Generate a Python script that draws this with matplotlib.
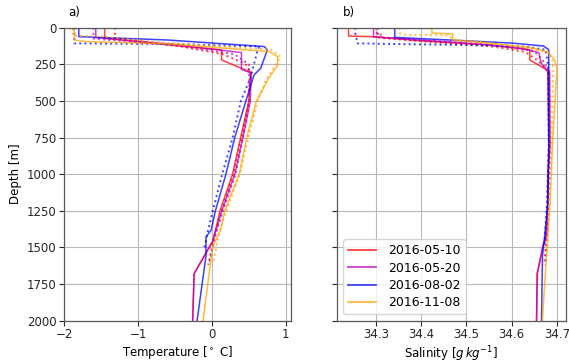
import matplotlib
matplotlib.use("Agg")
import matplotlib.pyplot as plt

dates = ["2016-05-10", "2016-05-20", "2016-08-02", "2016-11-08"]
colors = ["red", "m", "b", "orange"]

# Temperature profiles: (depth, T) solid and dotted per date
t_red_solid_z = [0, 71, 122, 152, 220, 305, 500, 750, 1000, 1250, 1380, 1460, 1680, 2000]
t_red_solid_v = [-1.45, -1.45, -0.5, 0.13, 0.13, 0.53, 0.50, 0.39, 0.28, 0.11, 0.05, 0.01, -0.24, -0.26]
t_red_dot_z = [0, 72, 125, 180, 245, 300, 500, 750, 1000, 1250, 1450, 1620]
t_red_dot_v = [-1.31, -1.31, -0.45, 0.14, 0.45, 0.52, 0.50, 0.40, 0.29, 0.13, 0.02, -0.05]

t_mag_solid_z = [0, 68, 115, 170, 285, 310, 500, 750, 1000, 1250, 1460, 1680, 2000]
t_mag_solid_v = [-1.57, -1.57, -0.5, 0.40, 0.40, 0.53, 0.52, 0.42, 0.31, 0.135, 0.01, -0.24, -0.26]
t_mag_dot_z = [0, 75, 120, 180, 250, 500, 750, 1000, 1250, 1450, 1600]
t_mag_dot_v = [-1.60, -1.60, -0.5, 0.30, 0.50, 0.51, 0.42, 0.32, 0.15, 0.03, -0.03]

t_blue_solid_z = [0, 61, 84, 129, 152, 277, 323, 500, 750, 1000, 1256, 1382, 1430, 1560, 2000]
t_blue_solid_v = [-1.80, -1.80, -0.6, 0.71, 0.75, 0.66, 0.57, 0.46, 0.31, 0.19, 0.045, -0.01, -0.08, -0.08, -0.20]
t_blue_dot_z = [0, 107, 112, 128, 150, 345, 503, 753, 1000, 1256, 1382, 1500]
t_blue_dot_v = [-1.86, -1.86, -0.5, 0.64, 0.62, 0.52, 0.39, 0.28, 0.14, 0.01, -0.05, -0.10]

t_orange_solid_z = [0, 25, 84, 95, 110, 164, 198, 255, 345, 503, 753, 1000, 1256, 1382, 1495, 2000]
t_orange_solid_v = [-1.90, -1.86, -1.86, -1.7, -0.6, 0.78, 0.89, 0.89, 0.77, 0.60, 0.47, 0.37, 0.17, 0.12, 0.01, -0.12]
t_orange_dot_z = [0, 55, 60, 100, 150, 198, 255, 357, 503, 753, 1000, 1256, 1400, 1600]
t_orange_dot_v = [-1.88, -1.88, -1.5, -0.7, 0.80, 0.93, 0.86, 0.73, 0.62, 0.49, 0.38, 0.19, 0.10, 0.02]

# Salinity profiles
s_red_solid_z = [0, 57, 62, 90, 118, 150, 220, 300, 800, 1000, 1400, 1480, 1680, 2000]
s_red_solid_v = [34.24, 34.24, 34.30, 34.40, 34.55, 34.64, 34.64, 34.684, 34.685, 34.68, 34.678, 34.670, 34.656, 34.655]
s_red_dot_z = [0, 68, 92, 125, 165, 230, 300, 900, 1400, 1620]
s_red_dot_v = [34.305, 34.305, 34.40, 34.55, 34.63, 34.66, 34.68, 34.684, 34.678, 34.672]

s_mag_solid_z = [0, 63, 75, 105, 140, 170, 240, 300, 800, 1200, 1450, 1480, 1680, 2000]
s_mag_solid_v = [34.295, 34.295, 34.35, 34.50, 34.62, 34.66, 34.665, 34.68, 34.682, 34.68, 34.675, 34.670, 34.657, 34.655]
s_mag_dot_z = [0, 35, 40, 65, 85, 115, 160, 230, 300, 800, 1200, 1600]
s_mag_dot_v = [34.30, 34.30, 34.311, 34.311, 34.40, 34.55, 34.65, 34.67, 34.682, 34.684, 34.68, 34.675]

s_blue_solid_z = [0, 66, 82, 105, 125, 150, 300, 800, 1200, 1450, 1560, 2000]
s_blue_solid_v = [34.342, 34.342, 34.45, 34.60, 34.67, 34.682, 34.682, 34.682, 34.680, 34.672, 34.668, 34.666]
s_blue_dot_z = [0, 40, 107, 112, 118, 130, 150, 250, 800, 1200, 1500]
s_blue_dot_v = [34.255, 34.255, 34.26, 34.35, 34.50, 34.63, 34.675, 34.68, 34.682, 34.678, 34.672]

s_orange_solid_z = [0, 36, 43, 84, 105, 135, 165, 220, 280, 800, 1200, 1500, 2000]
s_orange_solid_v = [34.424, 34.424, 34.47, 34.47, 34.55, 34.64, 34.68, 34.695, 34.70, 34.69, 34.685, 34.678, 34.668]
s_orange_dot_z = [0, 38, 50, 52, 80, 105, 140, 170, 220, 300, 800, 1200, 1550]
s_orange_dot_v = [34.353, 34.353, 34.37, 34.46, 34.47, 34.55, 34.64, 34.68, 34.69, 34.692, 34.688, 34.683, 34.678]

temp_solid = [(t_red_solid_v, t_red_solid_z), (t_mag_solid_v, t_mag_solid_z),
              (t_blue_solid_v, t_blue_solid_z), (t_orange_solid_v, t_orange_solid_z)]
temp_dot = [(t_red_dot_v, t_red_dot_z), (t_mag_dot_v, t_mag_dot_z),
            (t_blue_dot_v, t_blue_dot_z), (t_orange_dot_v, t_orange_dot_z)]
sal_solid = [(s_red_solid_v, s_red_solid_z), (s_mag_solid_v, s_mag_solid_z),
             (s_blue_solid_v, s_blue_solid_z), (s_orange_solid_v, s_orange_solid_z)]
sal_dot = [(s_red_dot_v, s_red_dot_z), (s_mag_dot_v, s_mag_dot_z),
           (s_blue_dot_v, s_blue_dot_z), (s_orange_dot_v, s_orange_dot_z)]

depth_ticks = [0, 250, 500, 750, 1000, 1250, 1500, 1750, 2000]
temp_ticks = [-2, -1, 0, 1]
sal_ticks = [34.3, 34.4, 34.5, 34.6, 34.7]

plt.rcParams['font.size'] = 8.5
fig = plt.figure(figsize=(5.69, 3.62), dpi=100)
W, H = 569.0, 362.0
ax1 = fig.add_axes([64 / W, (H - 320.5) / H, (291 - 64) / W, (320.5 - 27.7) / H])
ax2 = fig.add_axes([337 / W, (H - 320.5) / H, (566 - 337) / W, (320.5 - 27.7) / H], sharey=ax1)

for ax in (ax1, ax2):
    ax.grid(True, color='#b8b8b8', linewidth=0.8)
    ax.set_axisbelow(True)
    for sp in ax.spines.values():
        sp.set_color('0.35')
        sp.set_linewidth(0.9)
    ax.tick_params(colors='0.15', length=3.5, width=0.8, pad=2)

for (v, z), (dv, dz), c, lab in zip(temp_solid, temp_dot, colors, dates):
    ax1.plot(v, z, color=c, alpha=0.75, lw=1.1, label=lab)
    ax1.plot(dv, dz, color=c, alpha=0.75, lw=1.4, ls=':')
for (v, z), (dv, dz), c, lab in zip(sal_solid, sal_dot, colors, dates):
    ax2.plot(v, z, color=c, alpha=0.75, lw=1.1, label=lab)
    ax2.plot(dv, dz, color=c, alpha=0.75, lw=1.4, ls=':')

ax1.set_ylim(2000, 0)
ax1.set_yticks(depth_ticks)
ax1.set_xlim(-2.0, 1.07)
ax1.set_xticks(temp_ticks)
ax1.set_xticklabels(['\u22122', '\u22121', '0', '1'])
ax1.set_xlabel('Temperature [$^\\circ$ C]', labelpad=2)
ax1.set_ylabel('Depth [m]', labelpad=3)

ax2.set_xlim(34.2145, 34.72)
ax2.set_xticks(sal_ticks)
ax2.set_xticklabels(['34.3', '34.4', '34.5', '34.6', '34.7'])
ax2.tick_params(labelleft=False)
ax2.set_xlabel('Salinity [$g\\,kg^{-1}$]', labelpad=2)

ax1.text(0.02, 1.03, 'a)', transform=ax1.transAxes, va='bottom', ha='left')
ax2.text(0.025, 1.03, 'b)', transform=ax2.transAxes, va='bottom', ha='left')

leg = ax2.legend(loc='lower left', fontsize=9, handlelength=2.2, handletextpad=1.0,
                 labelspacing=0.35, edgecolor='0.8')
for line in leg.get_lines():
    line.set_linewidth(1.3)

fig.savefig('out.png', dpi=100)
